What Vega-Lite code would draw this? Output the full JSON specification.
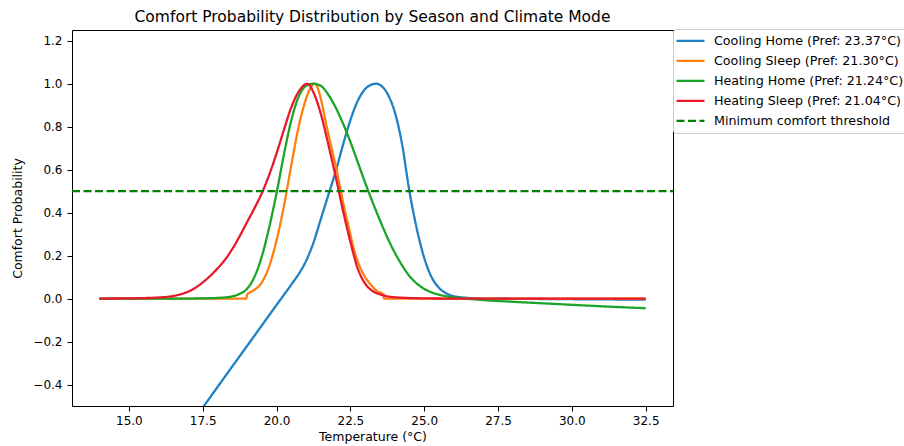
{
  "$schema": "https://vega.github.io/schema/vega-lite/v6.json",
  "width": 601,
  "height": 376,
  "autosize": "none",
  "padding": {"left": 72, "top": 30, "right": 231, "bottom": 40},
  "background": "white",
  "title": {"text": "Comfort Probability Distribution by Season and Climate Mode", "fontSize": 15.5, "font": "DejaVu Sans", "fontWeight": "normal", "color": "black", "offset": 3},
  "config": {
    "font": "DejaVu Sans",
    "view": {"stroke": "black", "strokeWidth": 1},
    "axis": {"grid": false, "domain": false, "tickColor": "black", "tickSize": 5, "labelColor": "black", "labelFontSize": 12, "labelFont": "DejaVu Sans", "titleFont": "DejaVu Sans", "titleFontSize": 12.5, "titleFontWeight": "normal", "titleColor": "black"},
    "legend": {"labelFont": "DejaVu Sans"}
  },
  "data": {"values": [
    {"t": 14, "p": -1.176, "s": "Cooling Home (Pref: 23.37°C)"},
    {"t": 15, "p": -0.985, "s": "Cooling Home (Pref: 23.37°C)"},
    {"t": 16, "p": -0.794, "s": "Cooling Home (Pref: 23.37°C)"},
    {"t": 17, "p": -0.603, "s": "Cooling Home (Pref: 23.37°C)"},
    {"t": 17.5, "p": -0.508, "s": "Cooling Home (Pref: 23.37°C)"},
    {"t": 18, "p": -0.412, "s": "Cooling Home (Pref: 23.37°C)"},
    {"t": 19, "p": -0.221, "s": "Cooling Home (Pref: 23.37°C)"},
    {"t": 20, "p": -0.03, "s": "Cooling Home (Pref: 23.37°C)"},
    {"t": 20.5, "p": 0.065, "s": "Cooling Home (Pref: 23.37°C)"},
    {"t": 20.8, "p": 0.125, "s": "Cooling Home (Pref: 23.37°C)"},
    {"t": 21, "p": 0.175, "s": "Cooling Home (Pref: 23.37°C)"},
    {"t": 21.25, "p": 0.26, "s": "Cooling Home (Pref: 23.37°C)"},
    {"t": 21.5, "p": 0.37, "s": "Cooling Home (Pref: 23.37°C)"},
    {"t": 21.75, "p": 0.48, "s": "Cooling Home (Pref: 23.37°C)"},
    {"t": 22, "p": 0.59, "s": "Cooling Home (Pref: 23.37°C)"},
    {"t": 22.25, "p": 0.715, "s": "Cooling Home (Pref: 23.37°C)"},
    {"t": 22.5, "p": 0.83, "s": "Cooling Home (Pref: 23.37°C)"},
    {"t": 22.75, "p": 0.92, "s": "Cooling Home (Pref: 23.37°C)"},
    {"t": 23, "p": 0.975, "s": "Cooling Home (Pref: 23.37°C)"},
    {"t": 23.2, "p": 0.995, "s": "Cooling Home (Pref: 23.37°C)"},
    {"t": 23.37, "p": 1.0, "s": "Cooling Home (Pref: 23.37°C)"},
    {"t": 23.55, "p": 0.99, "s": "Cooling Home (Pref: 23.37°C)"},
    {"t": 23.75, "p": 0.955, "s": "Cooling Home (Pref: 23.37°C)"},
    {"t": 24, "p": 0.87, "s": "Cooling Home (Pref: 23.37°C)"},
    {"t": 24.25, "p": 0.72, "s": "Cooling Home (Pref: 23.37°C)"},
    {"t": 24.5, "p": 0.5, "s": "Cooling Home (Pref: 23.37°C)"},
    {"t": 24.75, "p": 0.325, "s": "Cooling Home (Pref: 23.37°C)"},
    {"t": 25, "p": 0.19, "s": "Cooling Home (Pref: 23.37°C)"},
    {"t": 25.25, "p": 0.1, "s": "Cooling Home (Pref: 23.37°C)"},
    {"t": 25.5, "p": 0.05, "s": "Cooling Home (Pref: 23.37°C)"},
    {"t": 25.75, "p": 0.024, "s": "Cooling Home (Pref: 23.37°C)"},
    {"t": 26, "p": 0.011, "s": "Cooling Home (Pref: 23.37°C)"},
    {"t": 26.5, "p": 0.003, "s": "Cooling Home (Pref: 23.37°C)"},
    {"t": 27, "p": 0.0, "s": "Cooling Home (Pref: 23.37°C)"},
    {"t": 28, "p": -0.001, "s": "Cooling Home (Pref: 23.37°C)"},
    {"t": 30, "p": -0.003, "s": "Cooling Home (Pref: 23.37°C)"},
    {"t": 32.5, "p": -0.005, "s": "Cooling Home (Pref: 23.37°C)"},

    {"t": 14, "p": 0, "s": "Cooling Sleep (Pref: 21.30°C)"},
    {"t": 18.98, "p": 0, "s": "Cooling Sleep (Pref: 21.30°C)"},
    {"t": 19.0, "p": 0.018, "s": "Cooling Sleep (Pref: 21.30°C)"},
    {"t": 19.25, "p": 0.04, "s": "Cooling Sleep (Pref: 21.30°C)"},
    {"t": 19.5, "p": 0.075, "s": "Cooling Sleep (Pref: 21.30°C)"},
    {"t": 19.75, "p": 0.15, "s": "Cooling Sleep (Pref: 21.30°C)"},
    {"t": 20, "p": 0.27, "s": "Cooling Sleep (Pref: 21.30°C)"},
    {"t": 20.25, "p": 0.43, "s": "Cooling Sleep (Pref: 21.30°C)"},
    {"t": 20.5, "p": 0.62, "s": "Cooling Sleep (Pref: 21.30°C)"},
    {"t": 20.75, "p": 0.8, "s": "Cooling Sleep (Pref: 21.30°C)"},
    {"t": 21, "p": 0.93, "s": "Cooling Sleep (Pref: 21.30°C)"},
    {"t": 21.15, "p": 0.98, "s": "Cooling Sleep (Pref: 21.30°C)"},
    {"t": 21.3, "p": 1.0, "s": "Cooling Sleep (Pref: 21.30°C)"},
    {"t": 21.5, "p": 0.93, "s": "Cooling Sleep (Pref: 21.30°C)"},
    {"t": 21.61, "p": 0.86, "s": "Cooling Sleep (Pref: 21.30°C)"},
    {"t": 21.75, "p": 0.77, "s": "Cooling Sleep (Pref: 21.30°C)"},
    {"t": 21.89, "p": 0.685, "s": "Cooling Sleep (Pref: 21.30°C)"},
    {"t": 22, "p": 0.62, "s": "Cooling Sleep (Pref: 21.30°C)"},
    {"t": 22.17, "p": 0.507, "s": "Cooling Sleep (Pref: 21.30°C)"},
    {"t": 22.25, "p": 0.45, "s": "Cooling Sleep (Pref: 21.30°C)"},
    {"t": 22.45, "p": 0.33, "s": "Cooling Sleep (Pref: 21.30°C)"},
    {"t": 22.6, "p": 0.24, "s": "Cooling Sleep (Pref: 21.30°C)"},
    {"t": 22.79, "p": 0.158, "s": "Cooling Sleep (Pref: 21.30°C)"},
    {"t": 23, "p": 0.1, "s": "Cooling Sleep (Pref: 21.30°C)"},
    {"t": 23.19, "p": 0.065, "s": "Cooling Sleep (Pref: 21.30°C)"},
    {"t": 23.4, "p": 0.035, "s": "Cooling Sleep (Pref: 21.30°C)"},
    {"t": 23.62, "p": 0.02, "s": "Cooling Sleep (Pref: 21.30°C)"},
    {"t": 23.64, "p": 0, "s": "Cooling Sleep (Pref: 21.30°C)"},
    {"t": 32.5, "p": 0, "s": "Cooling Sleep (Pref: 21.30°C)"},

    {"t": 14, "p": 0, "s": "Heating Home (Pref: 21.24°C)"},
    {"t": 17, "p": 0, "s": "Heating Home (Pref: 21.24°C)"},
    {"t": 17.5, "p": 0.001, "s": "Heating Home (Pref: 21.24°C)"},
    {"t": 18, "p": 0.003, "s": "Heating Home (Pref: 21.24°C)"},
    {"t": 18.5, "p": 0.01, "s": "Heating Home (Pref: 21.24°C)"},
    {"t": 18.75, "p": 0.022, "s": "Heating Home (Pref: 21.24°C)"},
    {"t": 19, "p": 0.045, "s": "Heating Home (Pref: 21.24°C)"},
    {"t": 19.25, "p": 0.1, "s": "Heating Home (Pref: 21.24°C)"},
    {"t": 19.5, "p": 0.195, "s": "Heating Home (Pref: 21.24°C)"},
    {"t": 19.75, "p": 0.33, "s": "Heating Home (Pref: 21.24°C)"},
    {"t": 20, "p": 0.49, "s": "Heating Home (Pref: 21.24°C)"},
    {"t": 20.25, "p": 0.67, "s": "Heating Home (Pref: 21.24°C)"},
    {"t": 20.5, "p": 0.83, "s": "Heating Home (Pref: 21.24°C)"},
    {"t": 20.75, "p": 0.94, "s": "Heating Home (Pref: 21.24°C)"},
    {"t": 21, "p": 0.99, "s": "Heating Home (Pref: 21.24°C)"},
    {"t": 21.24, "p": 1.0, "s": "Heating Home (Pref: 21.24°C)"},
    {"t": 21.5, "p": 0.99, "s": "Heating Home (Pref: 21.24°C)"},
    {"t": 21.75, "p": 0.95, "s": "Heating Home (Pref: 21.24°C)"},
    {"t": 22, "p": 0.89, "s": "Heating Home (Pref: 21.24°C)"},
    {"t": 22.25, "p": 0.815, "s": "Heating Home (Pref: 21.24°C)"},
    {"t": 22.5, "p": 0.73, "s": "Heating Home (Pref: 21.24°C)"},
    {"t": 22.75, "p": 0.635, "s": "Heating Home (Pref: 21.24°C)"},
    {"t": 23, "p": 0.54, "s": "Heating Home (Pref: 21.24°C)"},
    {"t": 23.25, "p": 0.45, "s": "Heating Home (Pref: 21.24°C)"},
    {"t": 23.5, "p": 0.365, "s": "Heating Home (Pref: 21.24°C)"},
    {"t": 23.75, "p": 0.285, "s": "Heating Home (Pref: 21.24°C)"},
    {"t": 24, "p": 0.215, "s": "Heating Home (Pref: 21.24°C)"},
    {"t": 24.25, "p": 0.155, "s": "Heating Home (Pref: 21.24°C)"},
    {"t": 24.5, "p": 0.105, "s": "Heating Home (Pref: 21.24°C)"},
    {"t": 24.75, "p": 0.07, "s": "Heating Home (Pref: 21.24°C)"},
    {"t": 25, "p": 0.045, "s": "Heating Home (Pref: 21.24°C)"},
    {"t": 25.25, "p": 0.029, "s": "Heating Home (Pref: 21.24°C)"},
    {"t": 25.5, "p": 0.018, "s": "Heating Home (Pref: 21.24°C)"},
    {"t": 26, "p": 0.006, "s": "Heating Home (Pref: 21.24°C)"},
    {"t": 26.5, "p": -0.001, "s": "Heating Home (Pref: 21.24°C)"},
    {"t": 27, "p": -0.007, "s": "Heating Home (Pref: 21.24°C)"},
    {"t": 28, "p": -0.015, "s": "Heating Home (Pref: 21.24°C)"},
    {"t": 29, "p": -0.022, "s": "Heating Home (Pref: 21.24°C)"},
    {"t": 30, "p": -0.029, "s": "Heating Home (Pref: 21.24°C)"},
    {"t": 31, "p": -0.036, "s": "Heating Home (Pref: 21.24°C)"},
    {"t": 32, "p": -0.042, "s": "Heating Home (Pref: 21.24°C)"},
    {"t": 32.5, "p": -0.045, "s": "Heating Home (Pref: 21.24°C)"},

    {"t": 14, "p": 0, "s": "Heating Sleep (Pref: 21.04°C)"},
    {"t": 15, "p": 0.001, "s": "Heating Sleep (Pref: 21.04°C)"},
    {"t": 16, "p": 0.005, "s": "Heating Sleep (Pref: 21.04°C)"},
    {"t": 16.5, "p": 0.012, "s": "Heating Sleep (Pref: 21.04°C)"},
    {"t": 16.75, "p": 0.02, "s": "Heating Sleep (Pref: 21.04°C)"},
    {"t": 17, "p": 0.032, "s": "Heating Sleep (Pref: 21.04°C)"},
    {"t": 17.25, "p": 0.05, "s": "Heating Sleep (Pref: 21.04°C)"},
    {"t": 17.5, "p": 0.075, "s": "Heating Sleep (Pref: 21.04°C)"},
    {"t": 17.75, "p": 0.105, "s": "Heating Sleep (Pref: 21.04°C)"},
    {"t": 18, "p": 0.14, "s": "Heating Sleep (Pref: 21.04°C)"},
    {"t": 18.25, "p": 0.18, "s": "Heating Sleep (Pref: 21.04°C)"},
    {"t": 18.5, "p": 0.23, "s": "Heating Sleep (Pref: 21.04°C)"},
    {"t": 18.75, "p": 0.29, "s": "Heating Sleep (Pref: 21.04°C)"},
    {"t": 19, "p": 0.355, "s": "Heating Sleep (Pref: 21.04°C)"},
    {"t": 19.25, "p": 0.42, "s": "Heating Sleep (Pref: 21.04°C)"},
    {"t": 19.5, "p": 0.49, "s": "Heating Sleep (Pref: 21.04°C)"},
    {"t": 19.75, "p": 0.575, "s": "Heating Sleep (Pref: 21.04°C)"},
    {"t": 20, "p": 0.675, "s": "Heating Sleep (Pref: 21.04°C)"},
    {"t": 20.25, "p": 0.785, "s": "Heating Sleep (Pref: 21.04°C)"},
    {"t": 20.5, "p": 0.89, "s": "Heating Sleep (Pref: 21.04°C)"},
    {"t": 20.75, "p": 0.963, "s": "Heating Sleep (Pref: 21.04°C)"},
    {"t": 21.04, "p": 1.0, "s": "Heating Sleep (Pref: 21.04°C)"},
    {"t": 21.25, "p": 0.96, "s": "Heating Sleep (Pref: 21.04°C)"},
    {"t": 21.5, "p": 0.86, "s": "Heating Sleep (Pref: 21.04°C)"},
    {"t": 21.75, "p": 0.72, "s": "Heating Sleep (Pref: 21.04°C)"},
    {"t": 22, "p": 0.57, "s": "Heating Sleep (Pref: 21.04°C)"},
    {"t": 22.25, "p": 0.41, "s": "Heating Sleep (Pref: 21.04°C)"},
    {"t": 22.5, "p": 0.265, "s": "Heating Sleep (Pref: 21.04°C)"},
    {"t": 22.75, "p": 0.14, "s": "Heating Sleep (Pref: 21.04°C)"},
    {"t": 23, "p": 0.07, "s": "Heating Sleep (Pref: 21.04°C)"},
    {"t": 23.25, "p": 0.035, "s": "Heating Sleep (Pref: 21.04°C)"},
    {"t": 23.5, "p": 0.02, "s": "Heating Sleep (Pref: 21.04°C)"},
    {"t": 24, "p": 0.006, "s": "Heating Sleep (Pref: 21.04°C)"},
    {"t": 25, "p": 0.001, "s": "Heating Sleep (Pref: 21.04°C)"},
    {"t": 26, "p": 0, "s": "Heating Sleep (Pref: 21.04°C)"},
    {"t": 32.5, "p": 0, "s": "Heating Sleep (Pref: 21.04°C)"},

    {"t": 13.075, "p": 0.5, "s": "Minimum comfort threshold"},
    {"t": 33.425, "p": 0.5, "s": "Minimum comfort threshold"}
  ]},
  "mark": {"type": "line", "clip": true, "interpolate": "monotone"},
  "encoding": {
    "x": {"field": "t", "type": "quantitative", "title": "Temperature (°C)",
      "scale": {"domain": [13.075, 33.425], "nice": false, "zero": false},
      "axis": {"values": [15, 17.5, 20, 22.5, 25, 27.5, 30, 32.5], "format": ".1f", "labelPadding": 4, "titlePadding": 4}},
    "y": {"field": "p", "type": "quantitative", "title": "Comfort Probability",
      "scale": {"domain": [-0.5, 1.25], "nice": false, "zero": false},
      "axis": {"values": [-0.4, -0.2, 0, 0.2, 0.4, 0.6, 0.8, 1.0, 1.2], "format": ".1f", "labelPadding": 5, "titlePadding": 8}},
    "color": {"field": "s", "type": "nominal", "title": null,
      "scale": {
        "domain": ["Cooling Home (Pref: 23.37°C)", "Cooling Sleep (Pref: 21.30°C)", "Heating Home (Pref: 21.24°C)", "Heating Sleep (Pref: 21.04°C)", "Minimum comfort threshold"],
        "range": ["#1f80c4", "#ff7f0e", "#1aa52a", "#e8192c", "#008000"]},
      "legend": {"orient": "none", "legendX": 601, "legendY": -1, "symbolType": "stroke", "symbolSize": 784, "symbolStrokeWidth": 2.4, "labelFontSize": 12.7, "labelColor": "black", "labelOffset": 8, "labelLimit": 400, "strokeColor": "#cccccc", "fillColor": "white", "padding": 2, "cornerRadius": 3, "rowPadding": 0, "clipHeight": 19.6,
        "encode": {"symbols": {"update": {"strokeWidth": {"value": 2.4}}}}}},
    "strokeDash": {"field": "s", "type": "nominal", "title": null,
      "scale": {
        "domain": ["Cooling Home (Pref: 23.37°C)", "Cooling Sleep (Pref: 21.30°C)", "Heating Home (Pref: 21.24°C)", "Heating Sleep (Pref: 21.04°C)", "Minimum comfort threshold"],
        "range": [[1, 0], [1, 0], [1, 0], [1, 0], [8, 3.5]]}},
    "strokeWidth": {"field": "s", "type": "nominal", "legend": null,
      "scale": {
        "domain": ["Cooling Home (Pref: 23.37°C)", "Cooling Sleep (Pref: 21.30°C)", "Heating Home (Pref: 21.24°C)", "Heating Sleep (Pref: 21.04°C)", "Minimum comfort threshold"],
        "range": [2.3, 2.3, 2.3, 2.3, 1.6]}}
  }
}
